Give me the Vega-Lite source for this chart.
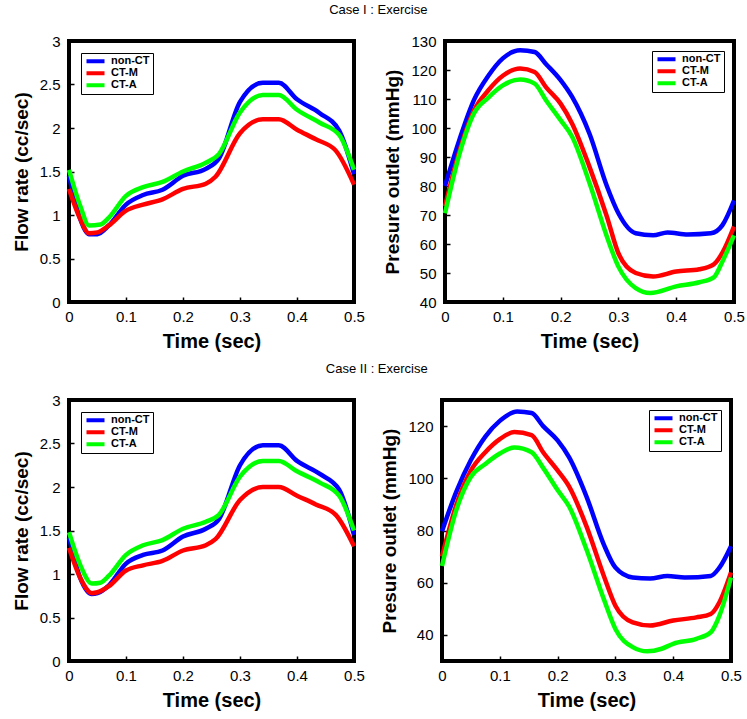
{
  "$schema": "https://vega.github.io/schema/vega-lite/v6.json",
  "background": "white",
  "padding": {"left": 10, "top": 4, "right": 5, "bottom": 2},
  "datasets": {
    "flow1": [
      {"t":0,"s":"non-CT","v":1.45},{"t":0.02,"s":"non-CT","v":0.95},{"t":0.035,"s":"non-CT","v":0.78},{"t":0.05,"s":"non-CT","v":0.78},{"t":0.07,"s":"non-CT","v":0.88},{"t":0.1,"s":"non-CT","v":1.12},{"t":0.13,"s":"non-CT","v":1.23},{"t":0.164,"s":"non-CT","v":1.29},{"t":0.2,"s":"non-CT","v":1.45},{"t":0.24,"s":"non-CT","v":1.53},{"t":0.263,"s":"non-CT","v":1.65},{"t":0.3,"s":"non-CT","v":2.3},{"t":0.34,"s":"non-CT","v":2.52},{"t":0.368,"s":"non-CT","v":2.52},{"t":0.4,"s":"non-CT","v":2.33},{"t":0.44,"s":"non-CT","v":2.17},{"t":0.474,"s":"non-CT","v":1.97},{"t":0.5,"s":"non-CT","v":1.47},
      {"t":0,"s":"CT-M","v":1.3},{"t":0.02,"s":"CT-M","v":0.95},{"t":0.035,"s":"CT-M","v":0.79},{"t":0.05,"s":"CT-M","v":0.8},{"t":0.07,"s":"CT-M","v":0.88},{"t":0.1,"s":"CT-M","v":1.05},{"t":0.13,"s":"CT-M","v":1.12},{"t":0.164,"s":"CT-M","v":1.18},{"t":0.2,"s":"CT-M","v":1.3},{"t":0.24,"s":"CT-M","v":1.36},{"t":0.257,"s":"CT-M","v":1.44},{"t":0.3,"s":"CT-M","v":1.94},{"t":0.34,"s":"CT-M","v":2.1},{"t":0.368,"s":"CT-M","v":2.1},{"t":0.4,"s":"CT-M","v":1.98},{"t":0.433,"s":"CT-M","v":1.87},{"t":0.468,"s":"CT-M","v":1.74},{"t":0.5,"s":"CT-M","v":1.35},
      {"t":0,"s":"CT-A","v":1.52},{"t":0.02,"s":"CT-A","v":1.1},{"t":0.035,"s":"CT-A","v":0.88},{"t":0.055,"s":"CT-A","v":0.89},{"t":0.07,"s":"CT-A","v":0.97},{"t":0.1,"s":"CT-A","v":1.22},{"t":0.13,"s":"CT-A","v":1.32},{"t":0.164,"s":"CT-A","v":1.38},{"t":0.2,"s":"CT-A","v":1.5},{"t":0.24,"s":"CT-A","v":1.6},{"t":0.263,"s":"CT-A","v":1.7},{"t":0.3,"s":"CT-A","v":2.18},{"t":0.34,"s":"CT-A","v":2.38},{"t":0.368,"s":"CT-A","v":2.38},{"t":0.4,"s":"CT-A","v":2.21},{"t":0.44,"s":"CT-A","v":2.06},{"t":0.474,"s":"CT-A","v":1.92},{"t":0.5,"s":"CT-A","v":1.52}
    ],
    "flow2": [
      {"t":0,"s":"non-CT","v":1.42},{"t":0.02,"s":"non-CT","v":0.95},{"t":0.04,"s":"non-CT","v":0.77},{"t":0.05,"s":"non-CT","v":0.78},{"t":0.07,"s":"non-CT","v":0.87},{"t":0.1,"s":"non-CT","v":1.12},{"t":0.13,"s":"non-CT","v":1.22},{"t":0.164,"s":"non-CT","v":1.27},{"t":0.2,"s":"non-CT","v":1.43},{"t":0.24,"s":"non-CT","v":1.52},{"t":0.263,"s":"non-CT","v":1.63},{"t":0.3,"s":"non-CT","v":2.25},{"t":0.34,"s":"non-CT","v":2.48},{"t":0.368,"s":"non-CT","v":2.48},{"t":0.4,"s":"non-CT","v":2.3},{"t":0.44,"s":"non-CT","v":2.15},{"t":0.474,"s":"non-CT","v":1.97},{"t":0.5,"s":"non-CT","v":1.45},
      {"t":0,"s":"CT-M","v":1.3},{"t":0.02,"s":"CT-M","v":0.95},{"t":0.04,"s":"CT-M","v":0.78},{"t":0.05,"s":"CT-M","v":0.79},{"t":0.07,"s":"CT-M","v":0.86},{"t":0.1,"s":"CT-M","v":1.04},{"t":0.13,"s":"CT-M","v":1.1},{"t":0.164,"s":"CT-M","v":1.15},{"t":0.2,"s":"CT-M","v":1.27},{"t":0.24,"s":"CT-M","v":1.33},{"t":0.257,"s":"CT-M","v":1.4},{"t":0.3,"s":"CT-M","v":1.85},{"t":0.34,"s":"CT-M","v":2.0},{"t":0.368,"s":"CT-M","v":2.0},{"t":0.4,"s":"CT-M","v":1.9},{"t":0.433,"s":"CT-M","v":1.8},{"t":0.468,"s":"CT-M","v":1.68},{"t":0.5,"s":"CT-M","v":1.32},
      {"t":0,"s":"CT-A","v":1.48},{"t":0.02,"s":"CT-A","v":1.1},{"t":0.04,"s":"CT-A","v":0.89},{"t":0.055,"s":"CT-A","v":0.9},{"t":0.07,"s":"CT-A","v":0.98},{"t":0.1,"s":"CT-A","v":1.22},{"t":0.13,"s":"CT-A","v":1.33},{"t":0.164,"s":"CT-A","v":1.39},{"t":0.2,"s":"CT-A","v":1.52},{"t":0.24,"s":"CT-A","v":1.6},{"t":0.263,"s":"CT-A","v":1.68},{"t":0.3,"s":"CT-A","v":2.12},{"t":0.34,"s":"CT-A","v":2.3},{"t":0.368,"s":"CT-A","v":2.3},{"t":0.4,"s":"CT-A","v":2.18},{"t":0.44,"s":"CT-A","v":2.05},{"t":0.474,"s":"CT-A","v":1.9},{"t":0.5,"s":"CT-A","v":1.5}
    ],
    "pres1": [
      {"t":0,"s":"non-CT","v":80},{"t":0.025,"s":"non-CT","v":96},{"t":0.05,"s":"non-CT","v":109.6},{"t":0.075,"s":"non-CT","v":118},{"t":0.1,"s":"non-CT","v":124},{"t":0.13,"s":"non-CT","v":126.8},{"t":0.155,"s":"non-CT","v":126.2},{"t":0.175,"s":"non-CT","v":122},{"t":0.2,"s":"non-CT","v":116.5},{"t":0.22,"s":"non-CT","v":110.7},{"t":0.25,"s":"non-CT","v":98},{"t":0.28,"s":"non-CT","v":80},{"t":0.3,"s":"non-CT","v":70.6},{"t":0.33,"s":"non-CT","v":63.7},{"t":0.36,"s":"non-CT","v":63},{"t":0.385,"s":"non-CT","v":64},{"t":0.42,"s":"non-CT","v":63.3},{"t":0.46,"s":"non-CT","v":63.7},{"t":0.48,"s":"non-CT","v":66.5},{"t":0.5,"s":"non-CT","v":75},
      {"t":0,"s":"CT-M","v":73},{"t":0.025,"s":"CT-M","v":92},{"t":0.05,"s":"CT-M","v":106},{"t":0.075,"s":"CT-M","v":113},{"t":0.1,"s":"CT-M","v":118},{"t":0.13,"s":"CT-M","v":120.5},{"t":0.155,"s":"CT-M","v":119.3},{"t":0.175,"s":"CT-M","v":114},{"t":0.2,"s":"CT-M","v":108.4},{"t":0.22,"s":"CT-M","v":101.5},{"t":0.25,"s":"CT-M","v":86.6},{"t":0.28,"s":"CT-M","v":69.5},{"t":0.3,"s":"CT-M","v":56.8},{"t":0.33,"s":"CT-M","v":50},{"t":0.36,"s":"CT-M","v":48.8},{"t":0.4,"s":"CT-M","v":50.5},{"t":0.44,"s":"CT-M","v":51.3},{"t":0.465,"s":"CT-M","v":53},{"t":0.48,"s":"CT-M","v":57},{"t":0.5,"s":"CT-M","v":66},
      {"t":0,"s":"CT-A","v":70.6},{"t":0.025,"s":"CT-A","v":91},{"t":0.05,"s":"CT-A","v":105},{"t":0.075,"s":"CT-A","v":110.5},{"t":0.1,"s":"CT-A","v":114.7},{"t":0.13,"s":"CT-A","v":116.7},{"t":0.155,"s":"CT-A","v":115.3},{"t":0.175,"s":"CT-A","v":109.5},{"t":0.2,"s":"CT-A","v":102.7},{"t":0.22,"s":"CT-A","v":97},{"t":0.25,"s":"CT-A","v":81},{"t":0.28,"s":"CT-A","v":62.6},{"t":0.3,"s":"CT-A","v":52.2},{"t":0.33,"s":"CT-A","v":44.8},{"t":0.355,"s":"CT-A","v":43.1},{"t":0.4,"s":"CT-A","v":45.4},{"t":0.44,"s":"CT-A","v":46.8},{"t":0.465,"s":"CT-A","v":48.5},{"t":0.48,"s":"CT-A","v":54},{"t":0.5,"s":"CT-A","v":63}
    ],
    "pres2": [
      {"t":0,"s":"non-CT","v":79.7},{"t":0.025,"s":"non-CT","v":95},{"t":0.05,"s":"non-CT","v":107},{"t":0.075,"s":"non-CT","v":116},{"t":0.1,"s":"non-CT","v":122},{"t":0.13,"s":"non-CT","v":125.6},{"t":0.155,"s":"non-CT","v":125},{"t":0.175,"s":"non-CT","v":120},{"t":0.2,"s":"non-CT","v":114.5},{"t":0.22,"s":"non-CT","v":108},{"t":0.25,"s":"non-CT","v":93},{"t":0.28,"s":"non-CT","v":74.6},{"t":0.3,"s":"non-CT","v":65.8},{"t":0.33,"s":"non-CT","v":62},{"t":0.36,"s":"non-CT","v":61.6},{"t":0.39,"s":"non-CT","v":62.6},{"t":0.42,"s":"non-CT","v":62},{"t":0.465,"s":"non-CT","v":62.6},{"t":0.48,"s":"non-CT","v":65.8},{"t":0.5,"s":"non-CT","v":74},
      {"t":0,"s":"CT-M","v":70},{"t":0.025,"s":"CT-M","v":90},{"t":0.05,"s":"CT-M","v":103},{"t":0.075,"s":"CT-M","v":110},{"t":0.1,"s":"CT-M","v":115},{"t":0.125,"s":"CT-M","v":117.7},{"t":0.155,"s":"CT-M","v":116.5},{"t":0.175,"s":"CT-M","v":110},{"t":0.2,"s":"CT-M","v":103},{"t":0.22,"s":"CT-M","v":96.8},{"t":0.25,"s":"CT-M","v":81.6},{"t":0.28,"s":"CT-M","v":62.6},{"t":0.3,"s":"CT-M","v":51.2},{"t":0.33,"s":"CT-M","v":44.8},{"t":0.36,"s":"CT-M","v":43.6},{"t":0.4,"s":"CT-M","v":45.5},{"t":0.44,"s":"CT-M","v":46.7},{"t":0.465,"s":"CT-M","v":48},{"t":0.48,"s":"CT-M","v":52.5},{"t":0.5,"s":"CT-M","v":63.9},
      {"t":0,"s":"CT-A","v":66.4},{"t":0.025,"s":"CT-A","v":88},{"t":0.05,"s":"CT-A","v":100.6},{"t":0.075,"s":"CT-A","v":105.5},{"t":0.1,"s":"CT-A","v":109.5},{"t":0.125,"s":"CT-A","v":111.8},{"t":0.155,"s":"CT-A","v":110},{"t":0.175,"s":"CT-A","v":104},{"t":0.2,"s":"CT-A","v":95.5},{"t":0.22,"s":"CT-A","v":89.2},{"t":0.25,"s":"CT-A","v":72.7},{"t":0.28,"s":"CT-A","v":53.7},{"t":0.3,"s":"CT-A","v":42.3},{"t":0.33,"s":"CT-A","v":35.3},{"t":0.355,"s":"CT-A","v":33.7},{"t":0.38,"s":"CT-A","v":34.7},{"t":0.4,"s":"CT-A","v":36.6},{"t":0.44,"s":"CT-A","v":38.5},{"t":0.465,"s":"CT-A","v":41},{"t":0.48,"s":"CT-A","v":47.4},{"t":0.5,"s":"CT-A","v":62}
    ]
  },
  "vconcat": [
    {
      "title": {"text": "Case I : Exercise"},
      "spacing": 14,
      "resolve": {"scale": {"color": "independent"}, "legend": {"color": "independent"}},
      "hconcat": [
        {
          "width": 285, "height": 261,
          "data": {"name": "flow1"},
          "mark": {"type": "line", "interpolate": "monotone", "strokeWidth": 4.5},
          "encoding": {
            "x": {"field": "t", "type": "quantitative", "scale": {"domain": [0, 0.5], "nice": false}, "axis": {"title": "Time (sec)", "values": [0, 0.1, 0.2, 0.3, 0.4, 0.5], "format": "~g"}},
            "y": {"field": "v", "type": "quantitative", "scale": {"domain": [0, 3], "nice": false}, "axis": {"title": "Flow rate (cc/sec)", "values": [0, 0.5, 1, 1.5, 2, 2.5, 3], "format": "~g"}},
            "color": {"field": "s", "type": "nominal", "scale": {"domain": ["non-CT", "CT-M", "CT-A"], "range": ["#0000ff", "#ff0000", "#00ff00"]}, "legend": {"orient": "top-left", "offset": 12, "clipHeight": 10.5, "rowPadding": 0}}
          }
        },
        {
          "width": 289, "height": 261,
          "data": {"name": "pres1"},
          "mark": {"type": "line", "interpolate": "monotone", "strokeWidth": 4.5},
          "encoding": {
            "x": {"field": "t", "type": "quantitative", "scale": {"domain": [0, 0.5], "nice": false}, "axis": {"title": "Time (sec)", "values": [0, 0.1, 0.2, 0.3, 0.4, 0.5], "format": "~g"}},
            "y": {"field": "v", "type": "quantitative", "scale": {"domain": [40, 130], "nice": false, "zero": false}, "axis": {"title": "Presure outlet (mmHg)", "values": [40, 50, 60, 70, 80, 90, 100, 110, 120, 130]}},
            "color": {"field": "s", "type": "nominal", "scale": {"domain": ["non-CT", "CT-M", "CT-A"], "range": ["#0000ff", "#ff0000", "#00ff00"]}, "legend": {"orient": "top-right", "offset": 10, "clipHeight": 10.5, "rowPadding": 0}}
          }
        }
      ]
    },
    {
      "title": {"text": "Case II : Exercise"},
      "spacing": 11,
      "resolve": {"scale": {"color": "independent"}, "legend": {"color": "independent"}},
      "hconcat": [
        {
          "width": 285, "height": 261,
          "data": {"name": "flow2"},
          "mark": {"type": "line", "interpolate": "monotone", "strokeWidth": 4.5},
          "encoding": {
            "x": {"field": "t", "type": "quantitative", "scale": {"domain": [0, 0.5], "nice": false}, "axis": {"title": "Time (sec)", "values": [0, 0.1, 0.2, 0.3, 0.4, 0.5], "format": "~g"}},
            "y": {"field": "v", "type": "quantitative", "scale": {"domain": [0, 3], "nice": false}, "axis": {"title": "Flow rate (cc/sec)", "values": [0, 0.5, 1, 1.5, 2, 2.5, 3], "format": "~g"}},
            "color": {"field": "s", "type": "nominal", "scale": {"domain": ["non-CT", "CT-M", "CT-A"], "range": ["#0000ff", "#ff0000", "#00ff00"]}, "legend": {"orient": "top-left", "offset": 12, "clipHeight": 10.5, "rowPadding": 0}}
          }
        },
        {
          "width": 289, "height": 261,
          "data": {"name": "pres2"},
          "mark": {"type": "line", "interpolate": "monotone", "strokeWidth": 4.5},
          "encoding": {
            "x": {"field": "t", "type": "quantitative", "scale": {"domain": [0, 0.5], "nice": false}, "axis": {"title": "Time (sec)", "values": [0, 0.1, 0.2, 0.3, 0.4, 0.5], "format": "~g"}},
            "y": {"field": "v", "type": "quantitative", "scale": {"domain": [30, 130], "nice": false, "zero": false}, "axis": {"title": "Presure outlet (mmHg)", "values": [40, 60, 80, 100, 120]}},
            "color": {"field": "s", "type": "nominal", "scale": {"domain": ["non-CT", "CT-M", "CT-A"], "range": ["#0000ff", "#ff0000", "#00ff00"]}, "legend": {"orient": "top-right", "offset": 10, "clipHeight": 10.5, "rowPadding": 0}}
          }
        }
      ]
    }
  ],
  "spacing": 10,
  "config": {
    "font": "Liberation Sans",
    "view": {"stroke": "black", "strokeWidth": 4},
    "axis": {"domain": false, "grid": false, "ticks": true, "tickSize": -5, "tickWidth": 1.5, "tickColor": "black", "labelFlush": false, "labelFontSize": 15, "labelColor": "black", "labelFont": "Liberation Sans", "titleFont": "Liberation Sans", "titleFontSize": 20, "titleFontWeight": "bold", "titleColor": "black"},
    "axisX": {"labelPadding": 12, "titlePadding": 7},
    "axisY": {"labelPadding": 14, "titlePadding": 8, "titleFontSize": 19},
    "legend": {"title": null, "strokeColor": "black", "fillColor": "white", "strokeWidth": 1, "padding": 3, "symbolType": "M-3,0H3", "symbolStrokeWidth": 4, "symbolSize": 36, "symbolOffset": 6, "labelFont": "Liberation Sans", "labelFontSize": 11, "labelFontWeight": "bold", "labelColor": "black", "labelOffset": 10, "rowPadding": 0, "labelExpr": "datum.label == 'non-CT' ? datum.label : '\u00a0\u00a0' + datum.label"},
    "title": {"font": "Liberation Sans", "fontSize": 13, "fontWeight": "normal", "color": "black", "anchor": "middle", "offset": 15}
  }
}
